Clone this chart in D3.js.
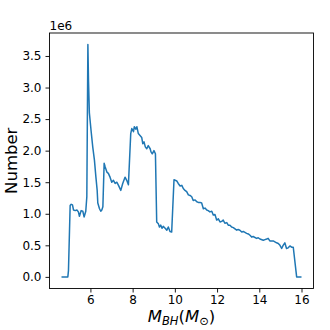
<!DOCTYPE html>
<html>
<head>
<meta charset="utf-8">
<script src="https://cdn.jsdelivr.net/npm/d3@7"></script>
<style>
  body { margin: 0; background: #fff; }
  svg text { font-family: "DejaVu Sans", sans-serif; fill: #000; }
</style>
</head>
<body>
<svg id="chart" width="330" height="330"></svg>
<script>
// black hole mass (solar masses)
var mass = [4.63, 4.93, 4.96, 5.04, 5.09, 5.15, 5.20, 5.28, 5.36, 5.43, 5.48, 5.56, 5.64, 5.70, 5.78, 5.83,
  5.88, 5.91, 5.95, 6.03, 6.11, 6.19, 6.26, 6.32, 6.35, 6.43, 6.49, 6.54, 6.59, 6.65, 6.70, 6.78, 6.85,
  6.93, 7.01, 7.09, 7.17, 7.25, 7.33, 7.44, 7.53, 7.64, 7.72, 7.80, 7.91, 7.96, 8.04, 8.08, 8.15, 8.20,
  8.27, 8.35, 8.43, 8.48, 8.54, 8.60, 8.67, 8.74, 8.83, 8.87, 8.93, 9.01, 9.08, 9.14, 9.22, 9.27, 9.33,
  9.39, 9.45, 9.54, 9.62, 9.69, 9.77, 9.85, 9.96, 10.09, 10.16, 10.25, 10.33, 10.40, 10.48, 10.56, 10.64,
  10.72, 10.80, 10.87, 10.96, 11.04, 11.11, 11.19, 11.27, 11.35, 11.43, 11.51, 11.58, 11.66, 11.75, 11.82,
  11.90, 11.98, 12.06, 12.14, 12.22, 12.29, 12.37, 12.46, 12.53, 12.61, 12.69, 12.77, 12.93, 13.00, 13.08,
  13.17, 13.24, 13.40, 13.48, 13.56, 13.64, 13.71, 13.87, 13.95, 14.03, 14.19, 14.27, 14.35, 14.42, 14.50,
  14.66, 14.82, 14.90, 14.98, 15.06, 15.13, 15.21, 15.29, 15.37, 15.45, 15.53, 15.61, 15.77, 16.00];
// number of black holes, in units of 1e6
var number = [0.00, 0.00, 0.10, 1.13, 1.15, 1.14, 1.06, 1.05, 1.06, 1.03, 0.96, 1.05, 1.04, 0.95, 1.04, 1.27,
  3.68, 3.10, 2.60, 2.32, 2.06, 1.85, 1.58, 1.37, 1.17, 1.08, 1.04, 1.06, 1.11, 1.80, 1.74, 1.66, 1.64,
  1.58, 1.50, 1.53, 1.48, 1.50, 1.45, 1.37, 1.48, 1.58, 1.53, 1.46, 2.27, 2.35, 2.30, 2.38, 2.34, 2.38,
  2.27, 2.24, 2.21, 2.11, 2.14, 2.06, 2.03, 2.08, 2.03, 1.98, 1.95, 2.00, 1.95, 0.87, 0.84, 0.79, 0.82,
  0.77, 0.80, 0.77, 0.74, 0.79, 0.72, 0.71, 1.54, 1.52, 1.48, 1.44, 1.45, 1.40, 1.37, 1.35, 1.30,
  1.29, 1.27, 1.21, 1.22, 1.19, 1.18, 1.18, 1.17, 1.08, 1.09, 1.06, 1.05, 1.03, 1.04, 0.98,
  0.99, 0.90, 0.92, 0.87, 0.88, 0.90, 0.85, 0.86, 0.82, 0.82, 0.79, 0.78, 0.74, 0.75, 0.74,
  0.71, 0.72, 0.69, 0.68, 0.66, 0.63, 0.64, 0.61, 0.62, 0.60, 0.58, 0.59, 0.60, 0.61, 0.57,
  0.57, 0.54, 0.53, 0.50, 0.45, 0.50, 0.54, 0.45, 0.46, 0.49, 0.47, 0.47, 0.00, 0.00];

var xTicks = [6, 8, 10, 12, 14, 16];
var yTicks = [0, 0.5, 1.0, 1.5, 2.0, 2.5, 3.0, 3.5];

var svg = d3.select("#chart");
var margin = {left: 49.5, right: 16.5, top: 33, bottom: 41.5};
var width = 330 - margin.left - margin.right;
var height = 330 - margin.top - margin.bottom;

// matplotlib style 5% padding
var xExt = d3.extent(mass), yExt = d3.extent(number);
var xPad = (xExt[1] - xExt[0]) * 0.05, yPad = (yExt[1] - yExt[0]) * 0.05;
var x = d3.scaleLinear().domain([xExt[0] - xPad, xExt[1] + xPad]).range([0, width]);
var y = d3.scaleLinear().domain([yExt[0] - yPad, yExt[1] + yPad]).range([height, 0]);

var g = svg.append("g").attr("transform", "translate(" + margin.left + "," + margin.top + ")");

var xAxis = d3.axisBottom(x).tickValues(xTicks).tickSize(4).tickPadding(3).tickFormat(d3.format("d"));
var yAxis = d3.axisLeft(y).tickValues(yTicks).tickSize(4).tickPadding(4).tickFormat(d3.format(".1f"));

var gx = g.append("g").attr("transform", "translate(0," + height + ")").call(xAxis);
var gy = g.append("g").call(yAxis);
[gx, gy].forEach(function(a) {
  a.select(".domain").remove();
  a.selectAll(".tick line").attr("stroke", "#000").attr("stroke-width", 0.9);
  a.selectAll(".tick text").style("font-size", "12px").attr("fill", "#000");
});

// spines
g.append("rect")
  .attr("x", 0).attr("y", 0)
  .attr("width", width).attr("height", height)
  .attr("fill", "none").attr("stroke", "#000").attr("stroke-width", 0.9);

var line = d3.line()
  .x(function(d, i) { return x(mass[i]); })
  .y(function(d) { return y(d); });

g.append("path")
  .datum(number)
  .attr("d", line)
  .attr("fill", "none")
  .attr("stroke", "#1f77b4")
  .attr("stroke-width", 1.5)
  .attr("stroke-linejoin", "round");

// offset text
g.append("text").attr("x", 0).attr("y", -3).style("font-size", "12px").text("1e6");

// axis labels
svg.append("text")
  .attr("transform", "translate(17," + (margin.top + height / 2) + ") rotate(-90)")
  .attr("text-anchor", "middle")
  .style("font-size", "16.5px")
  .text("Number");

var xl = svg.append("text")
  .attr("x", margin.left + width / 2).attr("y", 322)
  .attr("text-anchor", "middle")
  .style("font-size", "16.5px");
xl.append("tspan").style("font-style", "italic").text("M");
xl.append("tspan").style("font-style", "italic").style("font-size", "11.5px").attr("dy", 3).text("BH");
xl.append("tspan").attr("dy", -3).text("(");
xl.append("tspan").style("font-style", "italic").text("M");
xl.append("tspan").style("font-size", "11.5px").attr("dy", 3).text("\u2299");
xl.append("tspan").attr("dy", -3).text(")");
</script>
</body>
</html>
